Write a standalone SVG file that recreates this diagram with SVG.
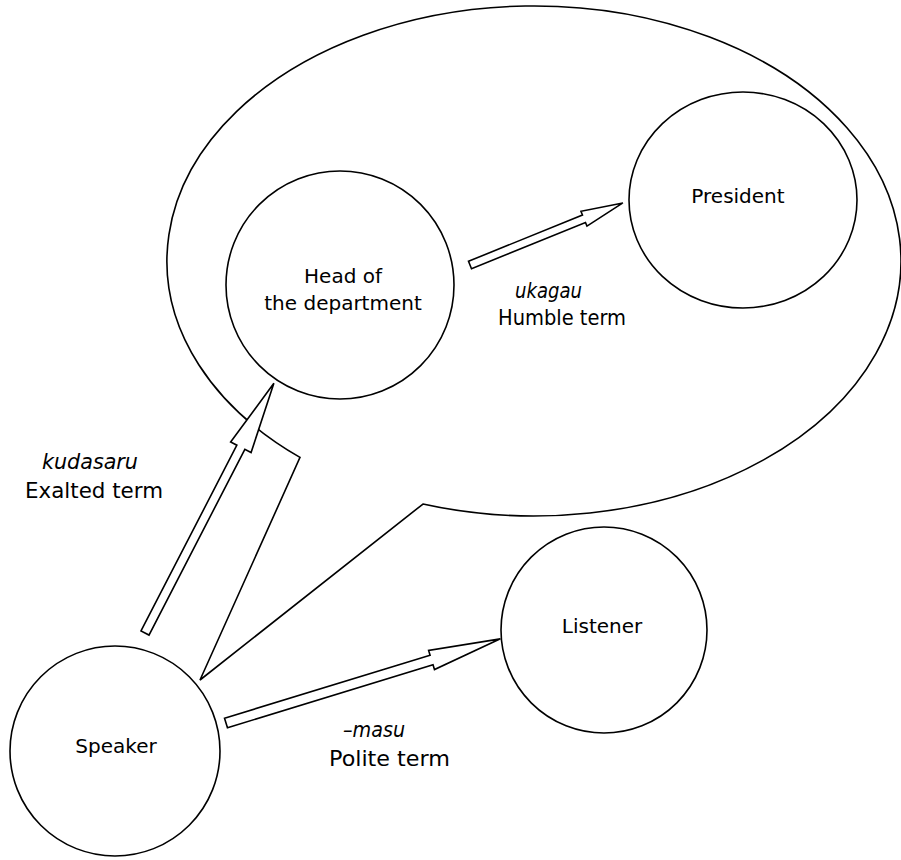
<svg xmlns="http://www.w3.org/2000/svg" width="901" height="860" viewBox="0 0 901 860">
  <style>
    .ln { fill: none; stroke: #000; stroke-width: 1.6; }
    .nd { fill: #fff; stroke: #000; stroke-width: 1.6; }
    .ar { fill: #fff; stroke: #000; stroke-width: 1.6; stroke-linejoin: miter; }
    .t { font-family: "DejaVu Sans", "Liberation Sans", sans-serif; font-size: 20px; fill: #000; }
    .lb { font-family: "DejaVu Sans", "Liberation Sans", sans-serif; font-size: 21px; fill: #000; }
    .it { font-style: italic; }
  </style>
  <rect width="901" height="860" fill="#fff"/>
  <g id="bubble">
    <path class="ln" d="M 423,504 A 367 255 0 1 0 300,457.4 L 200,680 Z"/>
  </g>
  <g id="head">
    <circle class="nd" cx="340" cy="285" r="114"/>
    <text class="t" x="343" y="283" text-anchor="middle">Head of</text>
    <text class="t" x="343" y="310" text-anchor="middle">the department</text>
  </g>
  <g id="president">
    <ellipse class="nd" cx="743" cy="200" rx="114" ry="108"/>
    <text class="t" x="738" y="203" text-anchor="middle">President</text>
  </g>
  <g id="listener">
    <circle class="nd" cx="604" cy="630" r="103"/>
    <text class="t" x="602" y="633" text-anchor="middle">Listener</text>
  </g>
  <g id="speaker">
    <circle class="nd" cx="115" cy="751" r="105"/>
    <text class="t" x="116" y="753" text-anchor="middle">Speaker</text>
  </g>
  <g id="connectors">
    <polygon class="ar" transform="translate(145,633) rotate(-62.7)" points="0,-4.5 209,-4.5 209,-11.5 281,0 209,11.5 209,4.5 0,4.5"/>
    <polygon class="ar" transform="translate(470,265) rotate(-22.1)" points="0,-4 123,-4 123,-8 165,0 123,8 123,4 0,4"/>
    <polygon class="ar" transform="translate(226,723) rotate(-17.05)" points="0,-5 215,-5 215,-10 287,0 215,10 215,5 0,5"/>
  </g>
  <g id="labels">
    <text class="lb it" x="42" y="469" textLength="96" lengthAdjust="spacingAndGlyphs">kudasaru</text>
    <text class="lb" x="25" y="498" textLength="138" lengthAdjust="spacingAndGlyphs">Exalted term</text>
    <text class="lb it" x="515" y="298" textLength="67" lengthAdjust="spacingAndGlyphs">ukagau</text>
    <text class="lb" x="498" y="325" textLength="128" lengthAdjust="spacingAndGlyphs">Humble term</text>
    <text class="lb it" x="343" y="737" textLength="62" lengthAdjust="spacingAndGlyphs">–masu</text>
    <text class="lb" x="329" y="766" textLength="121" lengthAdjust="spacingAndGlyphs">Polite term</text>
  </g>
</svg>
